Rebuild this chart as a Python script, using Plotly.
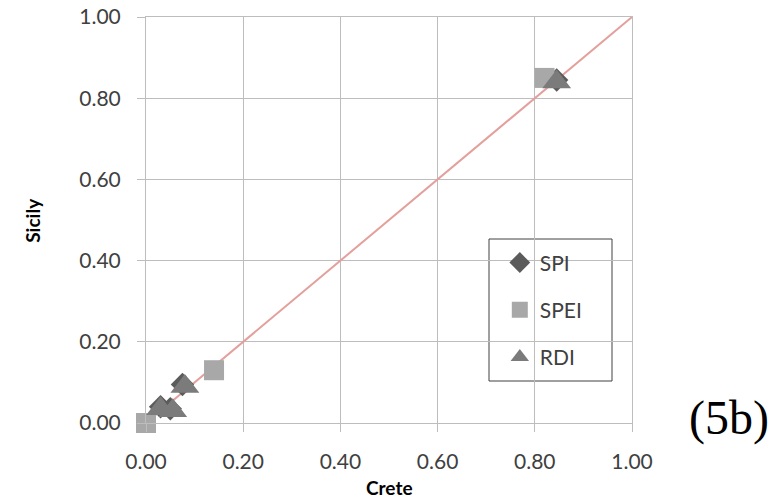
import plotly.graph_objects as go

# Data (Crete on x, Sicily on y)
spi_x = [0.03, 0.05, 0.075, 0.845]
spi_y = [0.04, 0.035, 0.095, 0.845]
spei_x = [0.00, 0.14, 0.82]
spei_y = [0.00, 0.13, 0.85]
rdi_x = [0.03, 0.055, 0.08, 0.845]
rdi_y = [0.035, 0.03, 0.09, 0.84]
line_x = [0.0, 1.0]
line_y = [0.0, 1.0]
tick_vals = [0.0, 0.2, 0.4, 0.6, 0.8, 1.0]
tick_text = ["0.00", "0.20", "0.40", "0.60", "0.80", "1.00"]

FONT = "Lato"
fig = go.Figure()
fig.add_trace(go.Scatter(x=line_x, y=line_y, mode="lines",
                         line=dict(color="#e3a09c", width=2), showlegend=False,
                         hoverinfo="skip"))
fig.add_trace(go.Scatter(x=spi_x, y=spi_y, mode="markers", name="SPI", legendgroup="a",
                         marker=dict(symbol="diamond", size=18, color="#5b5b5b"),
                         cliponaxis=False))
fig.add_trace(go.Scatter(x=spei_x, y=spei_y, mode="markers", name="SPEI", legendgroup="b",
                         marker=dict(symbol="square", size=20, color="#a8a8a8"),
                         cliponaxis=False))
fig.add_trace(go.Scatter(x=rdi_x, y=rdi_y, mode="markers", name="RDI", legendgroup="c",
                         marker=dict(symbol="triangle-up", size=25, color="#7b7b7b"),
                         cliponaxis=False))

axis_common = dict(range=[0, 1], tickvals=tick_vals, ticktext=tick_text,
                   showgrid=True, gridcolor="#bdbdbd", gridwidth=1,
                   showline=True, linecolor="#bdbdbd", linewidth=1, mirror=True,
                   ticks="outside", ticklen=8, tickcolor="#bdbdbd",
                   tickfont=dict(family=FONT, size=21, color="#404040"),
                   zeroline=False, fixedrange=True, automargin=False)
fig.update_xaxes(**axis_common, ticklabelstandoff=12)
fig.update_yaxes(**axis_common, ticklabelstandoff=12)

fig.update_layout(
    width=773, height=501,
    margin=dict(l=146, r=141, t=17, b=78, autoexpand=False),
    paper_bgcolor="white", plot_bgcolor="white",
    font=dict(family=FONT, color="#404040"),
    legend=dict(x=0.728, y=0.445, xanchor="left", yanchor="top",
                bgcolor="rgba(0,0,0,0)", borderwidth=0,
                font=dict(family=FONT, size=21, color="#404040"),
                tracegroupgap=17),
    shapes=[dict(type="rect", xref="paper", yref="paper",
                 x0=(489 - 146) / 486, x1=(612 - 146) / 486,
                 y0=(423 - 381) / 406, y1=(423 - 239) / 406,
                 line=dict(color="#404040", width=1), fillcolor="white", layer="below")],
    annotations=[
        dict(text="<b>Crete</b>", xref="paper", yref="paper", x=0.5, y=-0.16,
             xanchor="center", yanchor="middle", showarrow=False,
             font=dict(family=FONT, size=19, color="black")),
        dict(text="<b>Sicily</b>", xref="paper", yref="paper", x=-0.235, y=0.5,
             xanchor="center", yanchor="middle", showarrow=False, textangle=-90,
             font=dict(family=FONT, size=19, color="black")),
        dict(text="(5b)", xref="paper", yref="paper", x=(729 - 146) / 486, y=(423 - 418) / 406,
             xanchor="center", yanchor="middle", showarrow=False,
             font=dict(family="Liberation Serif", size=48, color="black")),
    ],
)
fig.write_html("out.html", config={"displayModeBar": False},
               post_script="document.body.style.margin='0';document.body.style.overflow='hidden';")
